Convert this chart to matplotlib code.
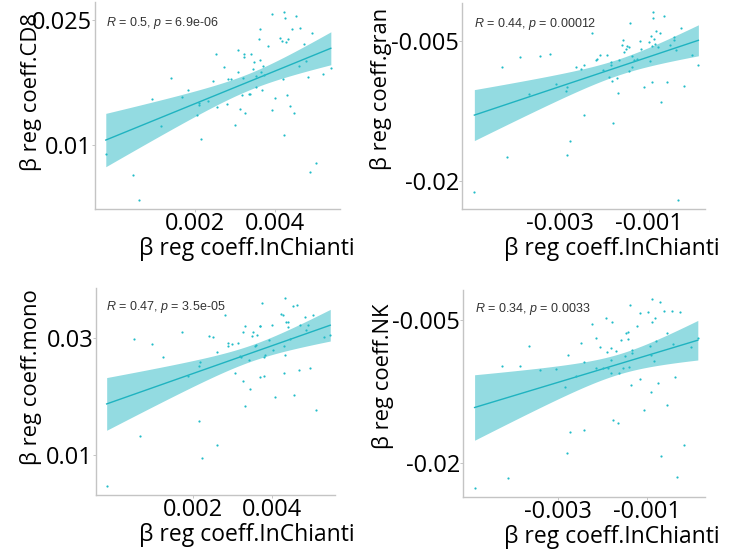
import numpy as np
import matplotlib
matplotlib.use("Agg")
import matplotlib.pyplot as plt

plt.rcParams['font.family'] = ['Open Sans', 'DejaVu Sans']
plt.rcParams['mathtext.fontset'] = 'custom'
plt.rcParams['mathtext.it'] = 'Liberation Sans:italic'
plt.rcParams['mathtext.rm'] = 'Liberation Sans'

# 数据（单位 1e-3）
cd8_x = [-0.23, 0.46, 0.59, 0.92, 1.15, 1.41, 1.67, 1.82, 2.06, 2.09, 2.11, 2.16, 2.33, 2.44,
         2.53, 2.54, 2.73, 2.81, 2.83, 2.91, 3.00, 3.08, 3.09, 3.14, 3.19, 3.21, 3.23, 3.24,
         3.26, 3.35, 3.38, 3.41, 3.45, 3.49, 3.52, 3.54, 3.61, 3.63, 3.64, 3.66, 3.69, 3.71,
         3.73, 3.84, 3.93, 3.94, 4.01, 4.14, 4.19, 4.21, 4.22, 4.24, 4.25, 4.27, 4.31, 4.33,
         4.38, 4.44, 4.48, 4.53, 4.61, 4.63, 4.73, 4.78, 4.83, 4.88, 4.94, 5.03, 5.21, 5.40]
cd8_y = [8.88, 6.44, 3.40, 15.48, 12.28, 18.08, 15.80, 16.68, 13.60, 15.08, 14.80, 10.76, 15.28, 17.76,
         20.92, 14.52, 19.36, 14.92, 17.96, 17.92, 12.40, 21.40, 18.80, 14.36, 16.00, 18.12, 20.60, 20.92,
         13.80, 16.12, 16.12, 21.00, 19.20, 20.00, 18.28, 17.00, 22.80, 23.92, 20.28, 18.80, 16.60, 19.48,
         18.40, 21.88, 25.72, 14.20, 15.72, 22.92, 22.52, 17.92, 11.16, 26.04, 25.32, 22.40, 16.08, 22.80,
         14.72, 23.96, 13.80, 25.48, 19.48, 24.04, 22.20, 20.12, 18.20, 6.80, 23.52, 7.88, 18.52, 19.28]

gran_x = [-4.95, -4.33, -4.20, -3.92, -3.71, -3.46, -3.23, -3.11, -2.87, -2.86, -2.84, -2.79, -2.64, -2.53,
          -2.46, -2.46, -2.28, -2.20, -2.18, -2.09, -2.03, -1.95, -1.90, -1.85, -1.85, -1.84, -1.80, -1.72,
          -1.69, -1.66, -1.60, -1.58, -1.55, -1.51, -1.48, -1.45, -1.44, -1.42, -1.38, -1.38, -1.32, -1.26,
          -1.19, -1.17, -1.11, -0.99, -0.96, -0.95, -0.93, -0.92, -0.91, -0.90, -0.88, -0.85, -0.82, -0.79,
          -0.73, -0.72, -0.64, -0.58, -0.51, -0.43, -0.43, -0.38, -0.34, -0.27, -0.19, -0.02, 0.13]
gran_y = [-21.14, -7.71, -17.43, -6.68, -10.61, -6.61, -6.32, -9.61, -10.29, -17.18, -9.89, -15.64, -7.71, -7.93,
          -7.54, -12.93, -4.11, -6.96, -6.93, -6.50, -8.07, -6.43, -8.82, -7.50, -7.25, -9.25, -13.71, -8.89,
          -10.54, -6.96, -5.39, -4.89, -6.11, -5.79, -5.46, -8.14, -5.57, -3.04, -7.75, -6.61, -7.04, -6.89,
          -5.00, -5.79, -9.89, -5.11, -7.14, -4.46, -9.39, -5.54, -1.89, -2.50, -4.71, -5.25, -3.93, -5.61,
          -4.14, -11.54, -2.32, -9.36, -5.43, -4.89, -4.54, -5.96, -22.04, -3.57, -9.75, -6.43, -7.54]

mono_x = [-0.19, 0.50, 0.65, 0.96, 1.23, 1.73, 1.87, 2.14, 2.16, 2.18, 2.23, 2.40, 2.51, 2.60,
          2.62, 2.80, 2.89, 2.89, 3.00, 3.07, 3.15, 3.18, 3.22, 3.27, 3.28, 3.31, 3.33, 3.43,
          3.45, 3.49, 3.53, 3.57, 3.59, 3.62, 3.69, 3.70, 3.71, 3.75, 3.79, 3.81, 3.82, 3.92,
          4.01, 4.03, 4.09, 4.23, 4.28, 4.30, 4.31, 4.33, 4.34, 4.36, 4.41, 4.42, 4.46, 4.53,
          4.57, 4.63, 4.70, 4.72, 4.83, 4.87, 4.92, 4.97, 5.04, 5.12, 5.31, 5.48]
mono_y = [4.74, 29.89, 13.26, 29.03, 26.74, 31.03, 23.43, 25.26, 15.83, 25.94, 9.43, 30.29, 30.11, 27.54,
          11.71, 33.89, 28.57, 29.14, 29.03, 24.00, 29.14, 26.97, 26.74, 22.69, 30.97, 32.11, 18.46, 26.17,
          21.26, 30.40, 30.97, 28.57, 28.86, 30.57, 32.11, 23.31, 32.00, 36.00, 23.54, 26.74, 27.14, 29.71,
          32.29, 28.00, 20.00, 34.17, 33.89, 24.00, 28.69, 36.86, 27.03, 32.74, 32.74, 31.83, 29.83, 35.43,
          20.29, 35.71, 24.46, 32.17, 33.54, 31.43, 32.17, 24.86, 34.00, 17.71, 30.11, 30.57]

nk_x = [-4.87, -4.26, -4.13, -3.85, -3.64, -3.40, -3.04, -2.83, -2.80, -2.78, -2.73, -2.58, -2.48, -2.41,
        -2.40, -2.23, -2.15, -2.14, -2.05, -1.98, -1.91, -1.90, -1.86, -1.81, -1.80, -1.80, -1.78, -1.76,
        -1.68, -1.65, -1.62, -1.58, -1.54, -1.49, -1.46, -1.43, -1.41, -1.40, -1.38, -1.36, -1.34, -1.34,
        -1.22, -1.16, -1.14, -1.07, -0.96, -0.93, -0.91, -0.90, -0.87, -0.87, -0.84, -0.81, -0.78, -0.75,
        -0.69, -0.67, -0.60, -0.55, -0.54, -0.44, -0.40, -0.36, -0.31, -0.26, -0.17, 0.00, 0.15]
nk_y = [-22.60, -9.84, -21.58, -9.84, -7.70, -10.26, -10.19, -12.08, -18.95, -8.68, -16.74, -10.89, -7.45, -9.38,
        -16.50, -5.42, -10.01, -6.86, -7.87, -10.01, -4.75, -8.33, -10.01, -9.21, -7.98, -10.54, -5.18, -15.45,
        -8.22, -15.80, -10.61, -7.10, -10.01, -8.79, -6.40, -6.23, -7.03, -9.98, -3.42, -11.83, -8.15, -8.43,
        -5.63, -4.23, -11.24, -14.46, -4.12, -7.73, -8.68, -12.54, -2.83, -5.18, -9.28, -4.82, -7.21, -11.59,
        -3.14, -19.30, -4.02, -13.94, -6.33, -4.02, -7.56, -10.96, -21.47, -4.12, -18.14, -7.87, -6.93]

stat_labels = ["0.5|6.9e-06", "0.44|0.00012", "0.47|3.5e-05", "0.34|0.0033"]
cell_names = ["CD8", "gran", "mono", "NK"]

BAND = '#93dbe1'
LINE = '#1fb3c0'
PT = '#22bcc8'


def reg_panel(ax, x, y, stat, name, xlim, ylim, xticks, xlabels, yticks, ylabels,
              ylab_pos, xlab_pos, stat_pos):
    x = np.asarray(x) * 1e-3
    y = np.asarray(y) * 1e-3
    # 线性回归 + 95% 置信带
    n = len(x)
    b, a = np.polyfit(x, y, 1)
    xs = np.linspace(x.min(), x.max(), 100)
    ys = a + b * xs
    resid = y - (a + b * x)
    s = np.sqrt(np.sum(resid ** 2) / (n - 2))
    se = s * np.sqrt(1 / n + (xs - x.mean()) ** 2 / np.sum((x - x.mean()) ** 2))
    t = 1.996
    ax.fill_between(xs, ys - t * se, ys + t * se, color=BAND, lw=0, zorder=1)
    ax.plot(xs, ys, color=LINE, lw=1.0, zorder=2)
    ax.scatter(x, y, s=2.5, color=PT, lw=0, zorder=3)

    ax.set_xlim(xlim[0] * 1e-3, xlim[1] * 1e-3)
    ax.set_ylim(ylim[0] * 1e-3, ylim[1] * 1e-3)
    ax.set_xticks(np.array(xticks) * 1e-3)
    ax.set_xticklabels(xlabels, fontsize=17)
    ax.set_yticks(np.array(yticks) * 1e-3)
    ax.set_yticklabels(ylabels, fontsize=17)
    ax.tick_params(length=2, width=0.6, color='#bbbbbb', pad=0)

    for sp in ['top', 'right']:
        ax.spines[sp].set_visible(False)
    for sp in ['left', 'bottom']:
        ax.spines[sp].set_color('#c4c4c4')
        ax.spines[sp].set_linewidth(1.0)

    ax.set_ylabel('β reg coeff.' + name, fontsize=15.8)
    ax.yaxis.set_label_coords(*ylab_pos)
    ax.set_xlabel('β reg coeff.InChianti', fontsize=16.5)
    ax.xaxis.set_label_coords(*xlab_pos)

    r, p = stat.split('|')
    ax.text(stat_pos[0], stat_pos[1], '$R$ = ' + r + ', $p$ = ' + p, transform=ax.transAxes,
            fontsize=9, color='#333333', va='center', ha='left', family='Liberation Sans')


fig = plt.figure(figsize=(7.33, 5.51), dpi=100)
ax1 = fig.add_axes([0.1296, 0.6207, 0.334, 0.3757])
ax2 = fig.add_axes([0.6303, 0.6207, 0.3315, 0.374])
ax3 = fig.add_axes([0.131, 0.1016, 0.326, 0.3757])
ax4 = fig.add_axes([0.6317, 0.098, 0.330, 0.3757])

reg_panel(ax1, cd8_x, cd8_y, stat_labels[0], cell_names[0], (-0.5, 5.625), (2.32, 27.2),
          [2, 4], ['0.002', '0.004'], [10, 25], ['0.01', '0.025'],
          (-0.216, 0.565), (0.62, -0.135), (0.045, 0.90))
reg_panel(ax2, gran_x, gran_y, stat_labels[1], cell_names[1], (-5.23, 0.28), (-22.96, -0.89),
          [-3, -1], ['-0.003', '-0.001'], [-20, -5], ['-0.02', '-0.005'],
          (-0.288, 0.583), (0.617, -0.135), (0.05, 0.90))
reg_panel(ax3, mono_x, mono_y, stat_labels[2], cell_names[2], (-0.46, 5.6), (3.14, 38.57),
          [2, 4], ['0.002', '0.004'], [10, 30], ['0.01', '0.03'],
          (-0.226, 0.57), (0.632, -0.135), (0.042, 0.908))
reg_panel(ax4, nk_x, nk_y, stat_labels[3], cell_names[3], (-5.13, 0.31), (-23.58, -1.85),
          [-3, -1], ['-0.003', '-0.001'], [-20, -5], ['-0.02', '-0.005'],
          (-0.285, 0.585), (0.616, -0.135), (0.05, 0.908))

fig.savefig('out.png', dpi=100)
